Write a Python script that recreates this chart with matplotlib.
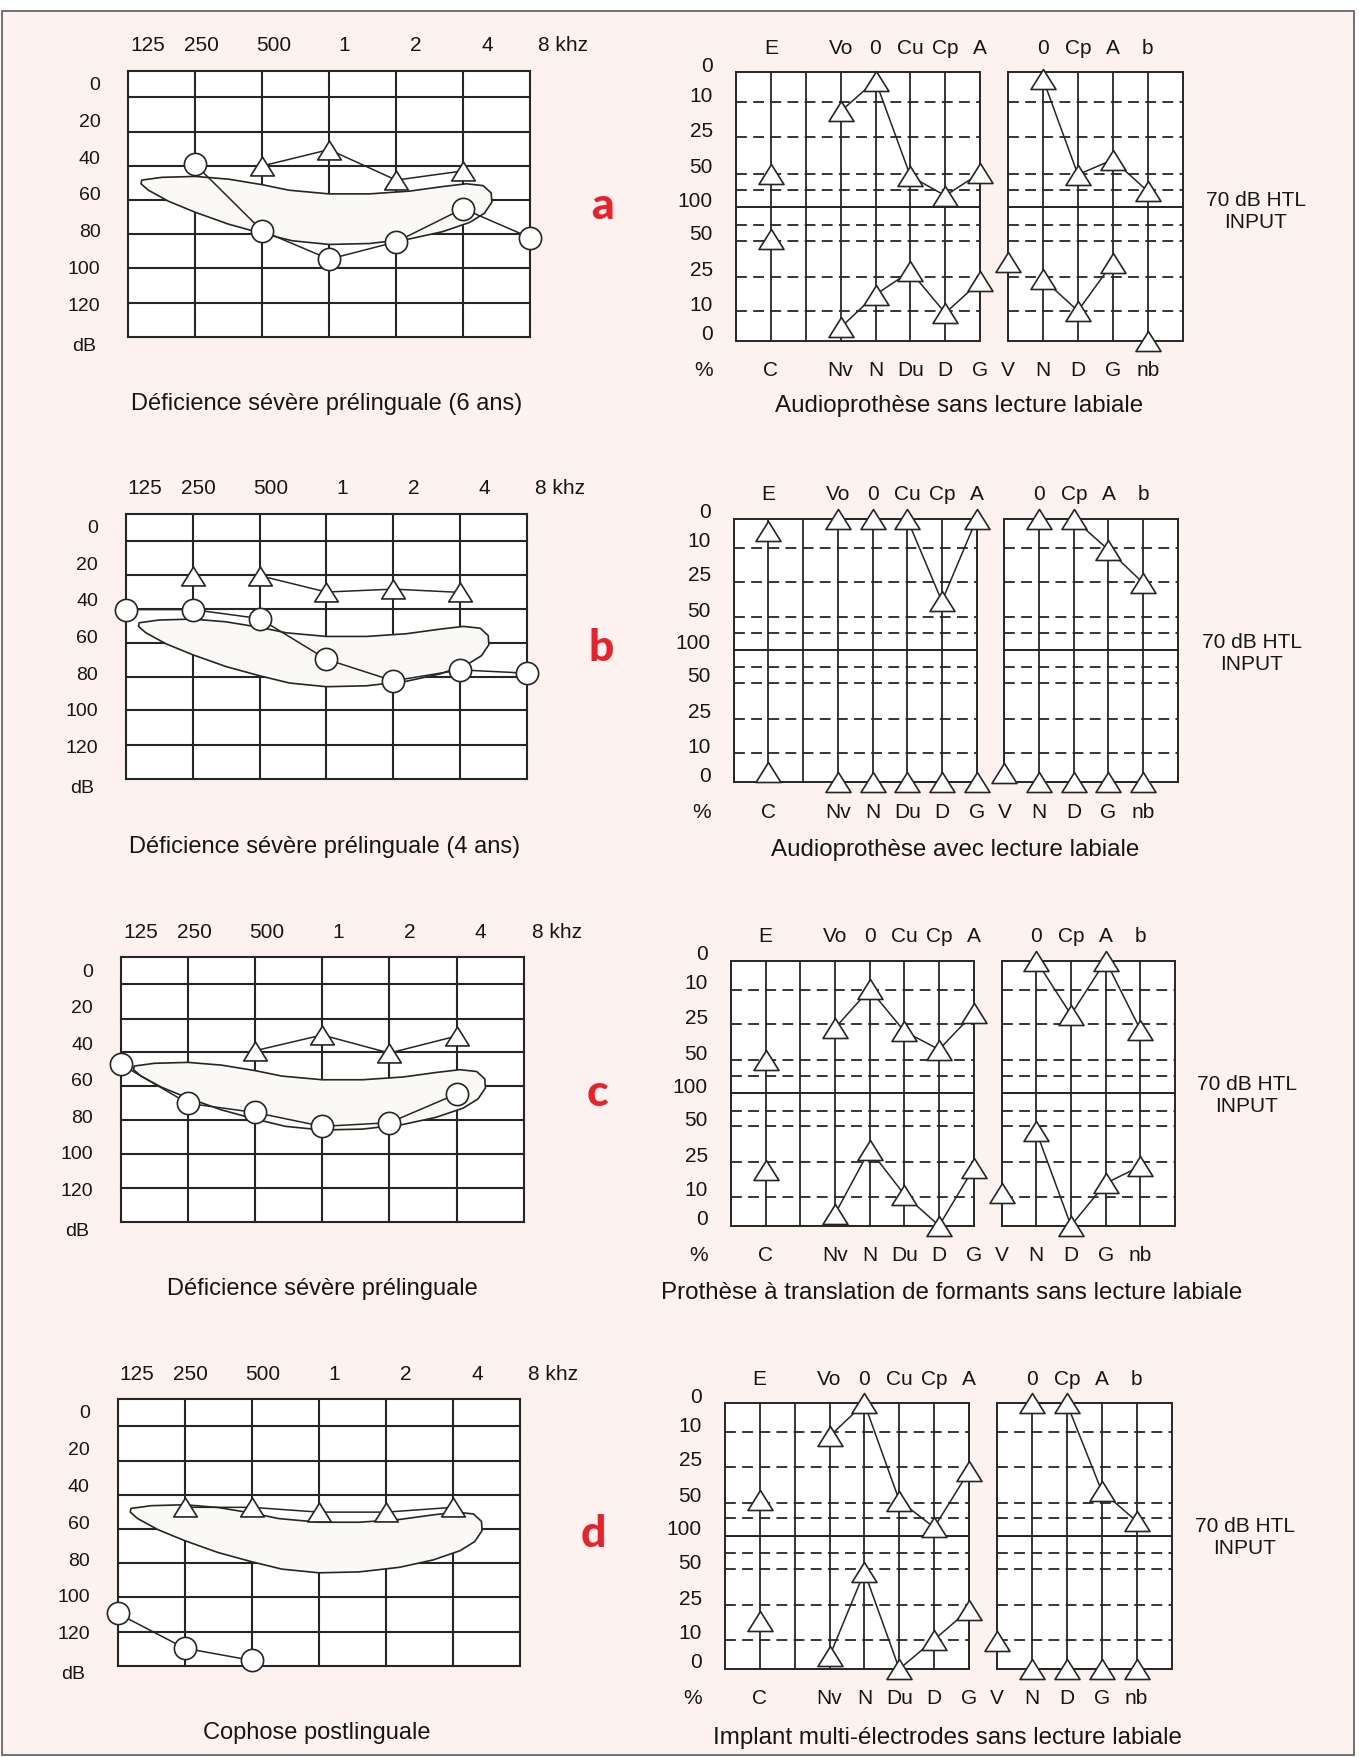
import numpy as np
import matplotlib
matplotlib.use("Agg")
import matplotlib.pyplot as plt
from matplotlib.patches import Polygon, Rectangle
from matplotlib.path import Path
from matplotlib.ticker import NullLocator
from matplotlib.transforms import ScaledTranslation, blended_transform_factory

W, H, DPI = 1359, 1758, 100
INK = "#262626"
TXT = "#161616"
PAGE = "#fdf2ef"
RED = "#e8212b"
BANANA_FC = "#fbf9f5"

plt.rcParams["font.family"] = ["Liberation Sans", "DejaVu Sans"]

# ------------------------------------------------------------
# Audiogram data (dB HL)
# ------------------------------------------------------------
FREQS = [125, 250, 500, 1000, 2000, 4000, 8000]
FREQ_LABELS = ["125", "250", "500", "1", "2", "4", "8 khz"]
FREQ_LABEL_SHIFT = [0.29, 0.09, 0.17, 0.23, 0.30, 0.36, 0.49]  # octaves
DB_TICKS = [0, 20, 40, 60, 80, 100, 120]
DB_GRID = [-6.5, 8, 27, 45.5, 64, 82.5, 101, 120, 138.5]

# speech area ("banana"), octaves above 125 Hz / dB
BANANA_OCT = [0.20, 0.50, 1.00, 1.50, 2.00, 2.40, 3.00, 3.60, 4.20, 4.70, 5.05,
              5.30, 5.42, 5.43, 5.32, 5.10, 4.70, 4.20, 3.60, 3.00, 2.45, 2.00,
              1.50, 1.00, 0.60, 0.30, 0.19]
BANANA_DB = [53.0, 51.5, 51.0, 52.5, 55.5, 58.5, 60.5, 60.5, 59.0, 56.5, 55.0,
             56.0, 60.0, 65.0, 71.0, 76.0, 81.0, 85.0, 87.5, 88.0, 86.0, 82.0,
             77.0, 70.5, 64.5, 58.5, 55.0]

A_CIRC_HZ = [250, 500, 1000, 2000, 4000, 8000]
A_CIRC_DB = [44.5, 80.6, 96.0, 86.6, 68.5, 84.3]
A_TRI_HZ = [500, 1000, 2000, 4000]
A_TRI_DB = [45.3, 36.4, 53.0, 48.0]

B_CIRC_HZ = [125, 250, 500, 1000, 2000, 4000, 8000]
B_CIRC_DB = [45.8, 45.8, 50.7, 73.0, 84.8, 78.8, 80.6]
B_TRI_HZ = [250, 500, 1000, 2000, 4000]
B_TRI_DB = [27.2, 27.2, 36.2, 34.6, 36.4]

C_CIRC_HZ = [125, 250, 500, 1000, 2000, 4000]
C_CIRC_DB = [52.0, 73.4, 78.4, 86.0, 84.0, 68.3]
C_TRI_HZ = [500, 1000, 2000, 4000]
C_TRI_DB = [44.6, 36.0, 45.9, 36.6]

D_CIRC_HZ = [125, 250, 500]
D_CIRC_DB = [110.0, 129.0, 135.6]
D_TRI_HZ = [250, 500, 1000, 2000, 4000]
D_TRI_DB = [52.4, 52.4, 55.0, 55.0, 52.4]

# ------------------------------------------------------------
# Speech perception charts (% scores, upper and lower halves)
# ------------------------------------------------------------
UP_KEYS = ["C", "Nv", "N", "Du", "D", "G", "N2", "D2", "G2", "nb"]
LO_KEYS = ["C", "Nv", "N", "Du", "D", "G", "V", "N2", "D2", "G2", "nb"]
TOP_LABELS = ["E", "Vo", "0", "Cu", "Cp", "A", "0", "Cp", "A", "b"]
BOTTOM_LABELS = ["C", "Nv", "N", "Du", "D", "G", "V", "N", "D", "G", "nb"]
PCT_STEPS = [0, 10, 25, 50, 75, 100]
PCT_POS = [0, 0.22, 0.48, 0.75, 0.87, 1.0]
PCT_TICK_UP = [0, 10, 25, 50, 100]
PCT_TICK_LO = [0, 10, 25, 50]

A_UP = [50, 14, 2.8, 54, 83.5, 49.6, 2.3, 51.7, 40.5, 77]
A_LO = [52, 4.5, 17.2, 28.7, 9.4, 23, 35, 24, 10.2, 34.7, 0]
B_UP = [4, 0, 0, 0, 38.9, 0, 0, 0, 10.9, 25.9]
B_LO = [3.4, 0, 0, 0, 0, 0, 3.2, 0, 0, 0, 0]
C_UP = [49.6, 27.6, 9.8, 29.9, 42.6, 20.1, 0, 20.8, 0, 28.7]
C_LO = [21.5, 4, 33.7, 10.8, 0, 22.5, 11.6, 46.6, 0, 15.8, 23.2]
D_UP = [48, 11.7, 0, 48.6, 88, 28, 0, 0, 42, 79]
D_LO = [17.9, 4.3, 48, 0, 10, 23, 9.4, 0, 0, 0, 0]

CHAIN_L = ["Nv", "N", "Du", "D", "G"]
CHAIN_R = ["N2", "D2", "G2", "nb"]
CHAIN_R_SHORT = ["N2", "D2", "G2"]

COL_X = {"C": 1, "Nv": 3, "N": 4, "Du": 5, "D": 6, "G": 7, "V": 7.8,
         "N2": 8.8, "D2": 9.8, "G2": 10.8, "nb": 11.8}
LEFT_PANEL = (0, 7)
RIGHT_PANEL = (7.8, 12.8)
V_LINES = [1, 2, 3, 4, 5, 6, 8.8, 9.8, 10.8, 11.8]

ROWS = [
    dict(letter="a", circ=(A_CIRC_HZ, A_CIRC_DB), tri=(A_TRI_HZ, A_TRI_DB), tri_from=0,
         up=A_UP, lo=A_LO, chains_lo=[CHAIN_L, CHAIN_R_SHORT],
         cap_l="Déficience sévère prélinguale (6 ans)",
         cap_r="Audioprothèse sans lecture labiale",
         aud=(128.3, 71.7, 530.0, 338.3), sp=(735.9, 73.3, 208.3, 341.7, 34.9),
         cap_l_xy=(327, 404), cap_r_xy=(959, 406), htl_xy=(1256, 211), let_xy=(603, 206)),
    dict(letter="b", circ=(B_CIRC_HZ, B_CIRC_DB), tri=(B_TRI_HZ, B_TRI_DB), tri_from=1,
         up=B_UP, lo=B_LO, chains_lo=[CHAIN_L, CHAIN_R],
         cap_l="Déficience sévère prélinguale (4 ans)",
         cap_r="Audioprothèse avec lecture labiale",
         aud=(125.8, 515.0, 527.0, 780.0), sp=(733.7, 520.0, 650.7, 783.3, 34.7),
         cap_l_xy=(325, 847), cap_r_xy=(955, 850), htl_xy=(1252, 654), let_xy=(601, 648)),
    dict(letter="c", circ=(C_CIRC_HZ, C_CIRC_DB), tri=(C_TRI_HZ, C_TRI_DB), tri_from=0,
         up=C_UP, lo=C_LO, chains_lo=[CHAIN_L, CHAIN_R],
         cap_l="Déficience sévère prélinguale",
         cap_r="Prothèse à translation de formants sans lecture labiale",
         aud=(120.8, 958.3, 523.7, 1223.3), sp=(730.9, 961.7, 1094.3, 1226.7, 34.7),
         cap_l_xy=(322, 1289), cap_r_xy=(952, 1293), htl_xy=(1247, 1095), let_xy=(597, 1093)),
    dict(letter="d", circ=(D_CIRC_HZ, D_CIRC_DB), tri=(D_TRI_HZ, D_TRI_DB), tri_from=0,
         up=D_UP, lo=D_LO, chains_lo=[CHAIN_L, CHAIN_R],
         cap_l="Cophose postlinguale",
         cap_r="Implant multi-électrodes sans lecture labiale",
         aud=(117.5, 1400.0, 520.4, 1666.7), sp=(724.8, 1404.3, 1536.7, 1670.0, 34.9),
         cap_l_xy=(317, 1733), cap_r_xy=(947, 1738), htl_xy=(1245, 1538), let_xy=(593, 1534)),
]

TRI = Path([(-1, -0.8), (1, -0.8), (0, 0.8), (-1, -0.8)],
           [Path.MOVETO, Path.LINETO, Path.LINETO, Path.CLOSEPOLY])


def px_rect(l, t, r, b):
    return [l / W, 1 - b / H, (r - l) / W, (b - t) / H]


def fxy(x, y):
    return x / W, 1 - y / H


def pct_fwd(p):
    return np.interp(p, PCT_STEPS, PCT_POS)


def pct_inv(y):
    return np.interp(y, PCT_POS, PCT_STEPS)


def px(dx, dy):
    return ScaledTranslation(dx / DPI, dy / DPI, fig.dpi_scale_trans)


fig = plt.figure(figsize=(W / DPI, H / DPI), dpi=DPI, facecolor="white")
fig.add_artist(Rectangle((2 / W, 1 - 1756 / H), 1352 / W, 1744 / H,
                         transform=fig.transFigure, fc=PAGE, ec="#5a5a5a", lw=1.2, zorder=-5))


def audiogram(row):
    ax = fig.add_axes(px_rect(*row["aud"]))
    ax.set_xscale("log", base=2)
    ax.set_xlim(FREQS[0], FREQS[-1])
    ax.set_ylim(DB_GRID[-1], DB_GRID[0])
    ax.set_facecolor("white")
    for s in ax.spines.values():
        s.set_visible(False)
    ax.xaxis.set_major_locator(NullLocator())
    ax.xaxis.set_minor_locator(NullLocator())
    ax.set_yticks(DB_TICKS)
    ax.set_yticklabels([str(v) for v in DB_TICKS])
    ax.yaxis.set_minor_locator(NullLocator())
    ax.tick_params(axis="y", length=0, pad=20, labelsize=14, labelcolor=TXT)

    for f in FREQS:
        ax.axvline(f, color=INK, lw=1.5, zorder=1, clip_on=False)
    for g in DB_GRID:
        ax.axhline(g, color=INK, lw=1.5, zorder=1, clip_on=False)

    bx = [FREQS[0] * 2 ** o for o in BANANA_OCT]
    ax.add_patch(Polygon(np.column_stack([bx, BANANA_DB]), closed=True, fc=BANANA_FC,
                         ec=INK, lw=1.2, zorder=2, joinstyle="round"))

    cf, cd = row["circ"]
    ax.plot(cf, cd, color=INK, lw=1.1, zorder=3, clip_on=False)
    ax.plot(cf, cd, "o", ms=16, mfc="white", mec=INK, mew=1.2, zorder=4, clip_on=False)
    tf, td = row["tri"]
    k = row["tri_from"]
    ax.plot(tf[k:], td[k:], color=INK, lw=1.1, zorder=3, clip_on=False)
    ax.plot(tf, td, ls="none", marker=TRI, ms=17, mfc="white", mec=INK, mew=1.2,
            zorder=4, clip_on=False)

    for f, lbl, sh in zip(FREQS, FREQ_LABELS, FREQ_LABEL_SHIFT):
        ax.text(f * 2 ** sh, 1, lbl, transform=ax.get_xaxis_transform() + px(0, 26),
                ha="center", va="center", fontsize=15, color=TXT)
    ax.text(0, 143, "dB", transform=ax.get_yaxis_transform() + px(-44, 0),
            ha="center", va="center", fontsize=14, color=TXT)


def speech_chart(row):
    l, t, m, b, unit = row["sp"]
    r = l + RIGHT_PANEL[1] * unit
    axl = fig.add_axes(px_rect(l, m, r, b))
    axu = fig.add_axes(px_rect(l, t, r, m))
    for ax in (axu, axl):
        ax.set_xlim(0, RIGHT_PANEL[1])
        ax.set_yscale("function", functions=(pct_fwd, pct_inv))
        ax.patch.set_visible(False)
        for s in ax.spines.values():
            s.set_visible(False)
        ax.set_xticks([])
        ax.set_yticks([])
        ax.yaxis.set_minor_locator(NullLocator())
        for x0, x1 in (LEFT_PANEL, RIGHT_PANEL):
            ax.axvspan(x0, x1, color="white", zorder=0)
            ax.hlines(PCT_STEPS[1:-1], x0, x1, color=INK, lw=1.3,
                      linestyles=(0, (6, 3.5)), zorder=1)
            for xe in (x0, x1):
                ax.axvline(xe, color=INK, lw=1.4, zorder=2, clip_on=False)
        for xv in V_LINES:
            ax.axvline(xv, color=INK, lw=1.3, zorder=2, clip_on=False)
    axu.set_ylim(100, 0)
    axl.set_ylim(0, 100)
    for x0, x1 in (LEFT_PANEL, RIGHT_PANEL):
        axu.hlines([0, 100], x0, x1, color=INK, lw=1.4, zorder=2, clip_on=False)
        axl.hlines([0, 100], x0, x1, color=INK, lw=1.4, zorder=2, clip_on=False)

    lab_tr = dict(ha="right", va="center", fontsize=15, color=TXT)
    for v in PCT_TICK_UP:
        axu.text(0, v, str(v), transform=blended_transform_factory(axu.transAxes, axu.transData)
                 + px(-23, 7), **lab_tr)
    for v in PCT_TICK_LO:
        axl.text(0, v, str(v), transform=blended_transform_factory(axl.transAxes, axl.transData)
                 + px(-23, 7), **lab_tr)
    axl.text(0, 0, "%", transform=axl.transAxes + px(-23, -29), **lab_tr)

    for k, lbl in zip(UP_KEYS, TOP_LABELS):
        axu.text(COL_X[k], 1, lbl, transform=axu.get_xaxis_transform() + px(0, 25),
                 ha="center", va="center", fontsize=15, color=TXT)
    for k, lbl in zip(LO_KEYS, BOTTOM_LABELS):
        axl.text(COL_X[k], 0, lbl, transform=axl.get_xaxis_transform() + px(0, -29),
                 ha="center", va="center", fontsize=15, color=TXT)

    up = dict(zip(UP_KEYS, row["up"]))
    lo = dict(zip(LO_KEYS, row["lo"]))
    for chain in (CHAIN_L, CHAIN_R):
        axu.plot([COL_X[k] for k in chain], [up[k] for k in chain], color=INK, lw=1.1,
                 zorder=4, clip_on=False)
    for chain in row["chains_lo"]:
        axl.plot([COL_X[k] for k in chain], [lo[k] for k in chain], color=INK, lw=1.1,
                 zorder=4, clip_on=False)
    tri_kw = dict(ls="none", marker=TRI, ms=18, mfc="white", mec=INK, mew=1.2,
                  zorder=5, clip_on=False)
    axu.plot([COL_X[k] for k in UP_KEYS], row["up"], **tri_kw)
    axl.plot([COL_X[k] for k in LO_KEYS], row["lo"], **tri_kw)


for row in ROWS:
    audiogram(row)
    speech_chart(row)
    fig.text(*fxy(*row["cap_l_xy"]), row["cap_l"], ha="center", va="center",
             fontsize=17, color=TXT)
    fig.text(*fxy(*row["cap_r_xy"]), row["cap_r"], ha="center", va="center",
             fontsize=17.4, color=TXT)
    fig.text(*fxy(*row["htl_xy"]), "70 dB HTL\nINPUT", ha="center", va="center",
             fontsize=15, linespacing=1.2, color=TXT)
    fig.text(*fxy(*row["let_xy"]), row["letter"], ha="center", va="center",
             fontsize=32, color=RED, family=["Lato", "DejaVu Sans"], fontweight="black")

fig.savefig("out.png", dpi=DPI, facecolor="white")
